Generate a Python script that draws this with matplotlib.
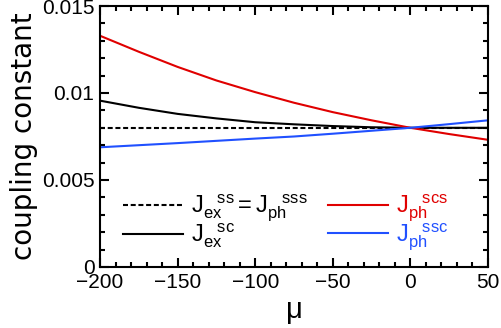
import matplotlib
matplotlib.use("Agg")
import matplotlib.pyplot as plt
from matplotlib.ticker import MultipleLocator

plt.rcParams['font.family'] = ['Liberation Sans', 'DejaVu Sans']
plt.rcParams['mathtext.fontset'] = 'custom'
plt.rcParams['mathtext.rm'] = 'Liberation Sans'
plt.rcParams['mathtext.it'] = 'Liberation Sans'
plt.rcParams['mathtext.bf'] = 'Liberation Sans:bold'

# data
mu = [-200, -175, -150, -125, -100, -75, -50, -25, 0, 25, 50]
j_ss = [0.008, 0.008, 0.008, 0.008, 0.008, 0.008, 0.008, 0.008, 0.008, 0.008, 0.008]
j_ex_sc = [0.00956, 0.00915, 0.0088, 0.00854, 0.00832, 0.0082, 0.0081, 0.00803, 0.008, 0.008, 0.008]
j_ph_scs = [0.01329, 0.01237, 0.0115, 0.01072, 0.01005, 0.00944, 0.0089, 0.00843, 0.008, 0.00764, 0.00731]
j_ph_ssc = [0.00688, 0.007, 0.00712, 0.00725, 0.00738, 0.0075, 0.00766, 0.00783, 0.008, 0.00821, 0.00843]

# superscripts sit after the subscripts, as in the original
labels = [r'$\mathrm{J_{ex}^{\quad ss} = J_{ph}^{\quad sss}}$',
          r'$\mathrm{J_{ex}^{\quad sc}}$',
          r'$\mathrm{J_{ph}^{\quad scs}}$',
          r'$\mathrm{J_{ph}^{\quad ssc}}$']

red = '#e00000'
blue = '#2050ff'

fig = plt.figure(figsize=(5.01, 3.28), dpi=100)
ax = fig.add_axes([0.1996, 0.186, 0.7744, 0.7957])

ax.plot(mu, j_ss, color='black', lw=1.5, ls=(0, (2.4, 1.3)), label=labels[0])
ax.plot(mu, j_ex_sc, color='black', lw=1.5, label=labels[1])
ax.plot(mu, j_ph_scs, color=red, lw=1.5, label=labels[2])
ax.plot(mu, j_ph_ssc, color=blue, lw=1.5, label=labels[3])

ax.set_xlim(-200, 50)
ax.set_ylim(0, 0.015)
ax.xaxis.set_major_locator(MultipleLocator(50))
ax.xaxis.set_minor_locator(MultipleLocator(10))
ax.set_yticks([0, 0.005, 0.01, 0.015])
ax.set_yticklabels(['0', '0.005', '0.01', '0.015'])
ax.yaxis.set_minor_locator(MultipleLocator(0.001))

ax.tick_params(which='both', direction='in', top=True, right=True, labelsize=15, width=1.5)
ax.tick_params(which='major', length=6.5, pad=4)
ax.tick_params(which='minor', length=3.5)
for s in ax.spines.values():
    s.set_linewidth(1.5)

ax.set_xlabel('μ', fontsize=21, labelpad=3)
ax.set_ylabel('coupling constant', fontsize=20, family='DejaVu Sans', labelpad=3)

leg = ax.legend(ncol=2, loc='lower left', bbox_to_anchor=(0.022, 0.0), frameon=False,
                fontsize=17, handlelength=2.54, handletextpad=0.35, columnspacing=0.85,
                labelspacing=-0.12, borderpad=0.1)
for txt, c in zip(leg.get_texts(), ['black', 'black', red, blue]):
    txt.set_color(c)

fig.savefig('out.png', dpi=100)
